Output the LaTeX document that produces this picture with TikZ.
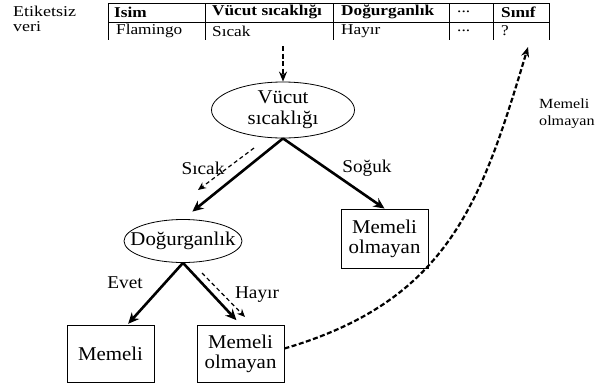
\documentclass[tikz,border=0pt]{standalone}
\usepackage{fontspec}
\setmainfont{Liberation Serif}
\newfontfamily\wideA[FakeStretch=1.2]{Liberation Serif}
\newfontfamily\wideB[FakeStretch=1.15]{Liberation Serif}
\newfontfamily\wideC[FakeStretch=1.07]{Liberation Serif}
\usetikzlibrary{shapes.geometric,arrows.meta,calc}
\tikzset{
  cell/.style={anchor=west,inner sep=0pt,font=\wideB\fontsize{15}{16}\selectfont},
  hcell/.style={cell,font=\wideB\fontsize{15}{16}\selectfont\bfseries},
  oval/.style={draw,ellipse,line width=0.8pt,inner sep=0pt,align=center,font=\wideC\fontsize{19.5}{21}\selectfont},
  leaf/.style={draw,rectangle,line width=0.9pt,inner sep=0pt,align=center,font=\wideC\fontsize{19.5}{20}\selectfont,minimum width=87pt,minimum height=57pt},
  edge/.style={line width=2.6pt,-{Stealth[length=11pt,width=10pt]}},
  trace/.style={line width=1.2pt,dash pattern=on 4pt off 3pt,-{Stealth[length=8pt,width=7pt]}},
  flow/.style={line width=2pt,dash pattern=on 5pt off 3pt,-{Stealth[length=10pt,width=8pt]}},
  elabel/.style={font=\wideC\fontsize{18}{20}\selectfont,inner sep=0pt},
  tline/.style={line width=1pt}
}
\begin{document}
\begin{tikzpicture}[x=1pt,y=-1pt]
\useasboundingbox (0,0) rectangle (595,389);
% left label
\node[anchor=west,inner sep=0pt,align=left,font=\wideA\fontsize{15}{15}\selectfont] (lbl) at (13,19) {Etiketsiz\\veri};
% table lines
\draw[tline] (108,3) -- (549,3);
\draw[tline] (108,22) -- (549,22);
\foreach \xx in {108,205,333,449,493,549} \draw[tline] (\xx,3) -- (\xx,40);
% table cells
\node[hcell] (h1) at (114,12) {Isim};
\node[hcell] (h2) at (212,12) {Vücut sıcaklığı};
\node[hcell] (h3) at (341,12) {Doğurganlık};
\node[cell] (h4) at (457,12) {...};
\node[hcell] (h5) at (501,12) {Sınıf};
\node[cell] (r1) at (116,31) {Flamingo};
\node[cell] (r2) at (212,31) {Sıcak};
\node[cell] (r3) at (341,31) {Hayır};
\node[cell] (r4) at (457,31) {...};
\node[cell] (r5) at (501,31) {?};
\coordinate (tbot) at (283,46);
\coordinate (ttip) at (528,47);
% tree nodes
\node[oval,inner ysep=-4pt,minimum width=143pt,minimum height=56pt] (v) at (283,110) {Vücut\\sıcaklığı};
\node[oval,inner xsep=-12pt,minimum width=118pt,minimum height=43pt] (d) at (183,241) {Doğurganlık};
\node[leaf] (m1) at (110.5,353.5) {Memeli};
\node[leaf] (m2) at (240.5,353.5) {Memeli\\olmayan};
\node[leaf,minimum height=59pt] (m3) at (384.5,238.5) {Memeli\\olmayan};
% edges
\draw[flow,line width=2.3pt,dash pattern=on 5pt off 2.5pt] (tbot) -- (v.north);
\draw[edge,shorten >=12pt] (v.south) -- (d.north);
\draw[edge] (v.south) -- (m3.north);
\draw[edge,shorten >=1pt] (d.south) -- ([xshift=17pt]m1.north);
\draw[edge,shorten >=6pt] (d.south) -- (m2.north);
% trace arrows
\coordinate (t1a) at (254,148); \coordinate (t1b) at (198,190);
\coordinate (t2a) at (202,273); \coordinate (t2b) at (245,317);
\draw[trace] (t1a) -- (t1b);
\draw[trace] (t2a) -- (t2b);
% edge labels
\node[elabel] (ls) at (203,168) {Sıcak};
\node[elabel] (lc) at (367,168) {Soğuk};
\node[elabel] (le) at (125,283) {Evet};
\node[elabel] (lh) at (257,295) {Hayır};
% result curve
\draw[flow,line width=2.2pt,dash pattern=on 5pt off 2.5pt] ([yshift=5pt]m2.east) .. controls (450,300) and (482,200) .. (ttip);
\node[anchor=west,inner sep=0pt,align=left,font=\wideB\fontsize{14}{17}\selectfont] (res) at (539,114) {Memeli\\olmayan};
\end{tikzpicture}
\end{document}
